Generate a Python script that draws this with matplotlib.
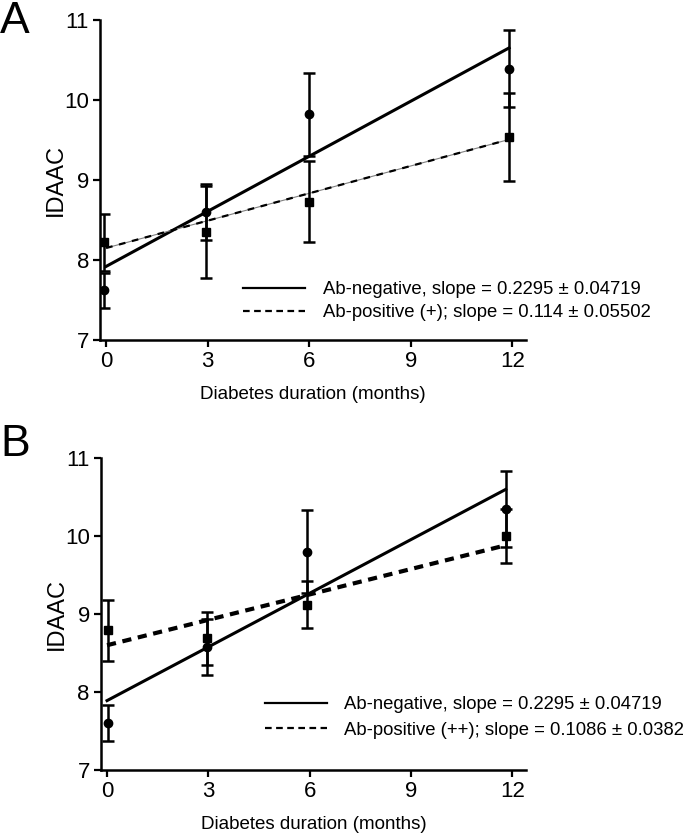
import matplotlib
matplotlib.use("Agg")
import matplotlib.pyplot as plt
from matplotlib.lines import Line2D

plt.rcParams['font.family'] = ['Liberation Sans', 'DejaVu Sans']

# ----------------------------------------------
# Dados
# ----------------------------------------------
xticks = [0, 3, 6, 9, 12]
yticks = [7, 8, 9, 10, 11]

# Painel A
a_x_neg = [-0.05, 2.95, 5.98, 11.9]
a_neg = [7.62, 8.60, 9.82, 10.39]
a_neg_err = [0.22, 0.35, 0.52, 0.48]
a_x_pos = [-0.05, 2.95, 5.98, 11.9]
a_pos = [8.22, 8.35, 8.73, 9.54]
a_pos_err = [0.36, 0.57, 0.51, 0.55]
a_fit_neg = (7.92, 0.2295)   # intercepto, inclinação
a_fit_pos = (8.15, 0.114)
a_labels = ["Ab-negative, slope = 0.2295 \u00b1 0.04719",
            "Ab-positive (+); slope = 0.114 \u00b1 0.05502"]

# Painel B
b_x_neg = [0.03, 2.97, 5.92, 11.8]
b_neg = [7.60, 8.58, 9.80, 10.35]
b_neg_err = [0.23, 0.36, 0.53, 0.49]
b_x_pos = [0.03, 2.97, 5.92, 11.8]
b_pos = [8.79, 8.69, 9.12, 10.00]
b_pos_err = [0.39, 0.34, 0.30, 0.35]
b_fit_neg = (7.89, 0.2295)
b_fit_pos = (8.60, 0.1086)
b_labels = ["Ab-negative, slope = 0.2295 \u00b1 0.04719",
            "Ab-positive (++); slope = 0.1086 \u00b1 0.0382"]

fig = plt.figure(figsize=(6.93, 8.34), dpi=100)
axA = fig.add_axes([0.1443, 0.5923, 0.6147, 0.3837])
axB = fig.add_axes([0.1457, 0.0767, 0.6133, 0.3741])


def painel(ax, xn, yn, en, xp, yp, ep, fneg, fpos, labels, thick_dash,
           leg_xy, spacing, letra, letra_y):
    xend = xn[-1]
    # linhas de regressão
    ax.plot([0, xend], [fneg[0], fneg[0] + fneg[1] * xend],
            color='black', lw=2.2, zorder=3)
    if thick_dash:
        ax.plot([0, xend], [fpos[0], fpos[0] + fpos[1] * xend],
                color='black', lw=3, dashes=(2.2, 1.6), zorder=3)
    else:
        ax.plot([0, xend], [fpos[0], fpos[0] + fpos[1] * xend],
                color='0.5', lw=0.8, zorder=3)
        ax.plot([0, xend], [fpos[0], fpos[0] + fpos[1] * xend],
                color='black', lw=1.6, dashes=(3, 3), zorder=3)
    # pontos com barras de erro
    ax.errorbar(xn, yn, yerr=en, fmt='o', color='black', ms=6,
                elinewidth=1.8, capsize=4, capthick=1.8, zorder=4)
    ax.errorbar(xp, yp, yerr=ep, fmt='s', color='black', ms=6,
                elinewidth=1.8, capsize=4, capthick=1.8, zorder=4)

    ax.set_xlim(-0.18, 12.4)
    ax.set_ylim(7, 11)
    ax.set_xticks(xticks)
    ax.set_yticks(yticks)
    ax.spines['top'].set_visible(False)
    ax.spines['right'].set_visible(False)
    ax.spines['left'].set_linewidth(1.8)
    ax.spines['bottom'].set_linewidth(1.8)
    ax.tick_params(width=1.6, length=5, labelsize=16, pad=3)
    ax.set_xlabel("Diabetes duration (months)", fontsize=13.5, labelpad=10)
    ax.set_ylabel("IDAAC", fontsize=17, labelpad=-2)

    handles = [Line2D([], [], color='black', lw=1.6),
               Line2D([], [], color='black', lw=1.6, dashes=(3, 2))]
    fig.legend(handles, labels, loc='upper left', bbox_to_anchor=leg_xy,
               bbox_transform=fig.transFigure, frameon=False, fontsize=13.3,
               handlelength=3.35, handletextpad=0.95, labelspacing=spacing,
               borderpad=0, borderaxespad=0)
    fig.text(0.0, letra_y, letra, fontsize=32, va='baseline', ha='left')


painel(axA, a_x_neg, a_neg, a_neg_err, a_x_pos, a_pos, a_pos_err,
       a_fit_neg, a_fit_pos, a_labels, False, (0.351, 1 - 281 / 834), 0.35,
       "A", 1 - 33 / 834)
painel(axB, b_x_neg, b_neg, b_neg_err, b_x_pos, b_pos, b_pos_err,
       b_fit_neg, b_fit_pos, b_labels, True, (0.382, 1 - 696 / 834), 0.47,
       "B", 1 - 456 / 834)

fig.savefig("out.png", dpi=100)
